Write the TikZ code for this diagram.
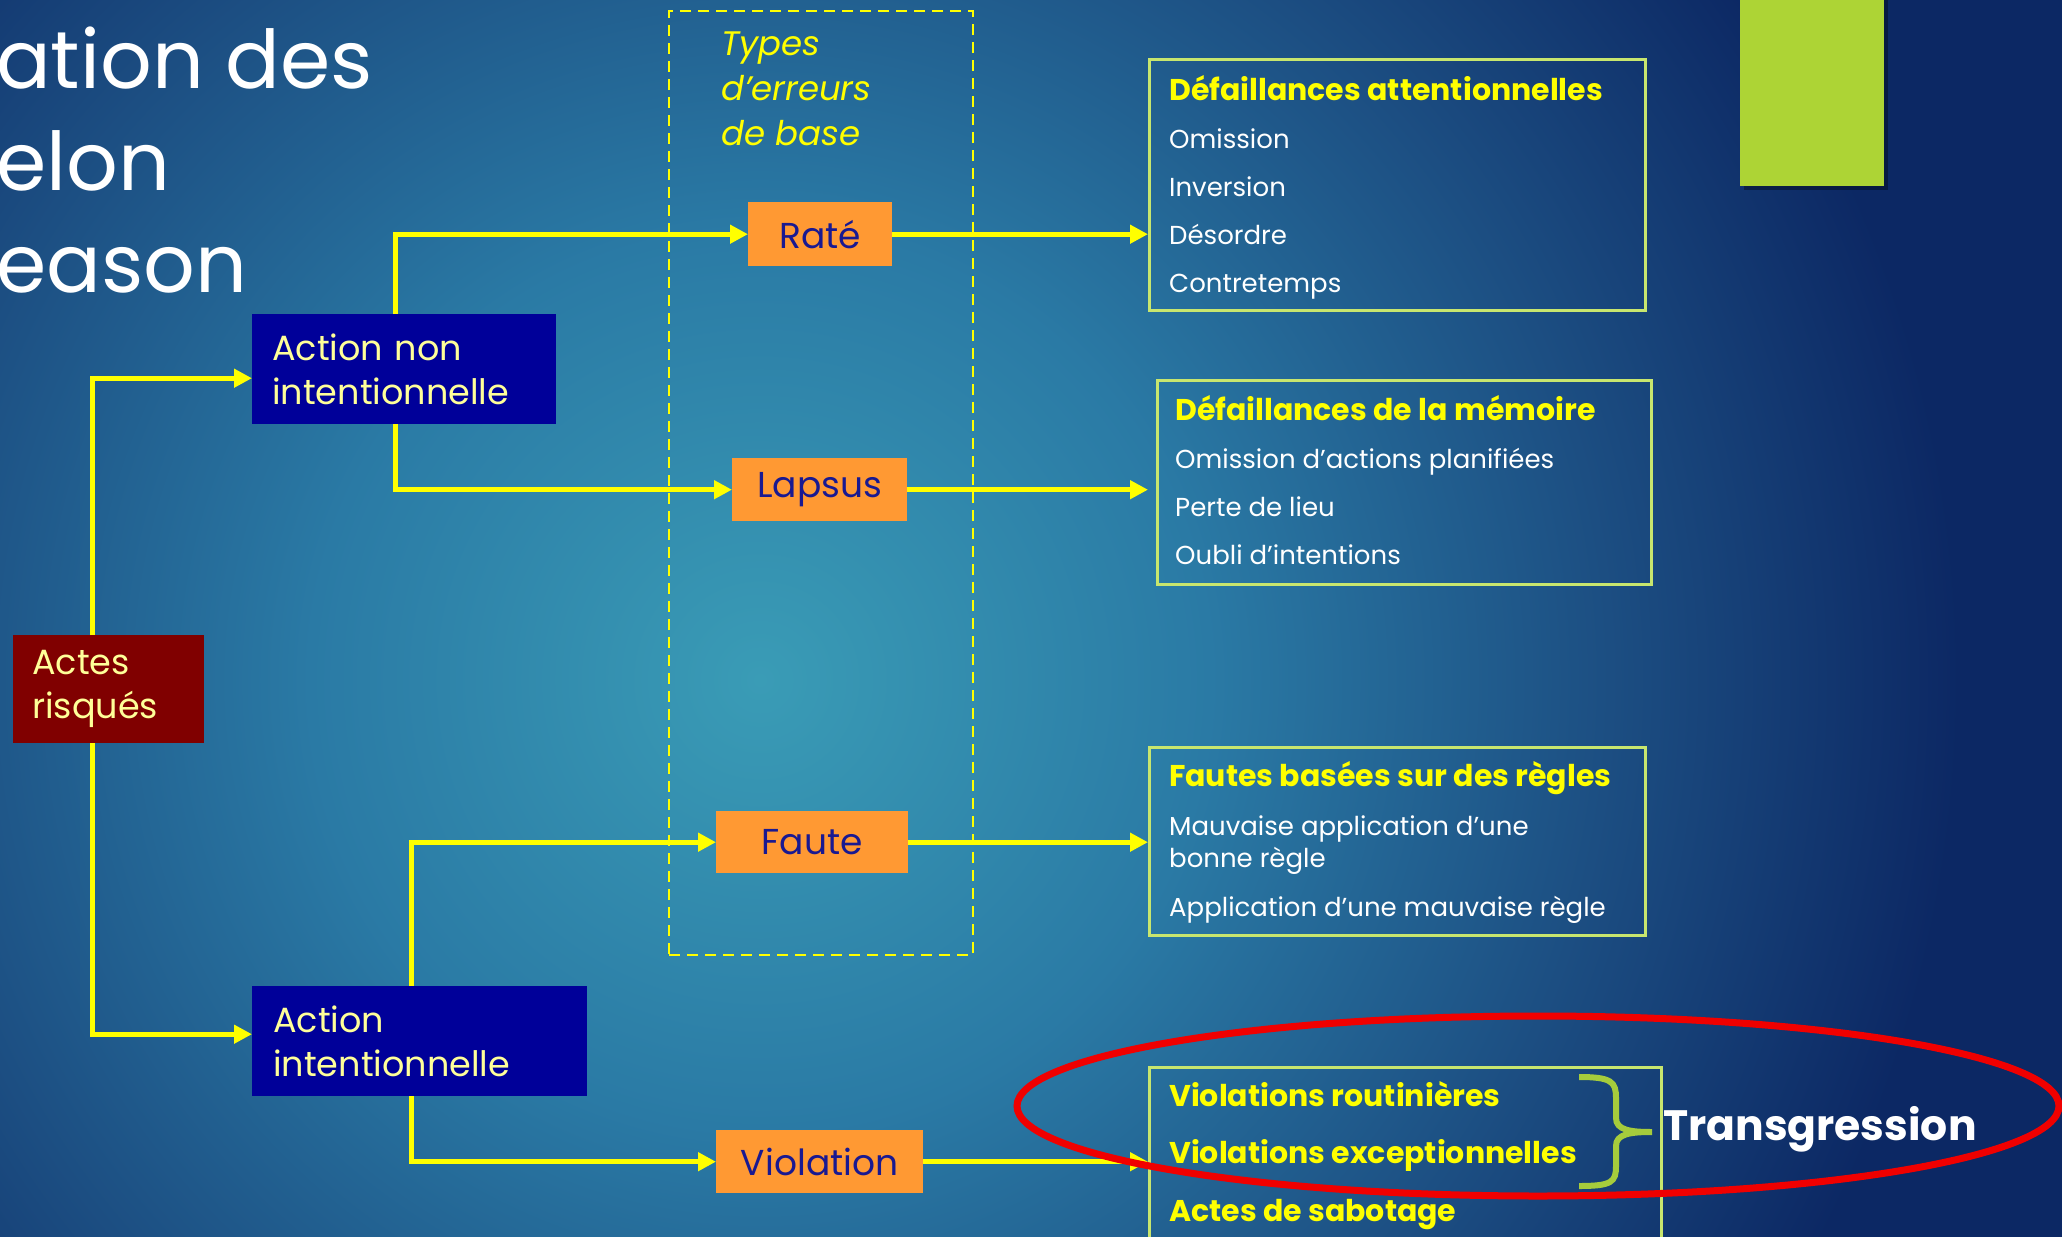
\documentclass[tikz,border=0pt]{standalone}
\usepackage{fontspec}
\setmainfont{Poppins}
\usetikzlibrary{arrows.meta}

\definecolor{glowin}{RGB}{58,156,182}
\definecolor{glowmid}{RGB}{42,122,165}
\definecolor{glowlow}{RGB}{28,78,130}
\definecolor{navydeep}{RGB}{12,40,100}
\definecolor{linkyellow}{RGB}{255,255,0}
\definecolor{paleyellow}{RGB}{255,255,153}
\definecolor{actblue}{RGB}{0,0,153}
\definecolor{riskred}{RGB}{128,0,0}
\definecolor{kindorange}{RGB}{255,153,51}
\definecolor{kindink}{RGB}{25,25,145}
\definecolor{listframe}{RGB}{200,230,110}
\definecolor{bracegreen}{RGB}{166,204,60}
\definecolor{tabgreen}{RGB}{173,212,53}
\definecolor{ringred}{RGB}{240,0,0}

\pgfdeclareradialshading{slideglow}{\pgfpoint{0bp}{0bp}}{color(0bp)=(glowin); color(9bp)=(glowmid); color(17bp)=(glowlow); color(24bp)=(navydeep); color(50bp)=(navydeep)}

\newcommand{\listhead}[1]{{\bfseries\fontsize{30}{48}\selectfont\color{linkyellow}#1}}

\tikzset{
    elbow/.style={to path={|- (\tikztotarget)}}
}

\begin{document}
\begin{tikzpicture}[x=1pt,y=-1pt]
        \useasboundingbox (0,0) rectangle (2062,1237);
        \clip (0,0) rectangle (2062,1237);
        % slide background
        \fill[navydeep] (0,0) rectangle (2062,1237);
        \shade[shading=slideglow] (760,680) circle (1250);
        \fill[black,opacity=.35] (1744,0) rectangle (1888,190);
        \fill[tabgreen] (1740,0) rectangle (1884,186);

        \node[anchor=base west, align=left, inner sep=0pt, text=white, font=\fontsize{81}{102}\selectfont] (title) at (-4,292) {ation des\\elon\\eason};

        \node[draw=linkyellow, line width=2pt, dash pattern=on 11pt off 7pt, anchor=north west, minimum width=304pt, minimum height=944pt, inner sep=0pt] (zone) at (668,10) {};
        \node[anchor=base west, align=left, inner sep=0pt, text=linkyellow, font=\itshape\fontsize{34}{45}\selectfont] (types) at (721,145) {Types\\d’erreurs\\de base};

        \begin{scope}[every node/.style={anchor=north west, inner ysep=0pt, align=left, text=paleyellow, font=\fontsize{35}{44}\selectfont}]
            \node[fill=riskred, minimum width=191pt, minimum height=108pt, text width=153pt, inner xsep=19pt] (actes) at (13,635) {Actes\\risqués};
            \node[fill=actblue, minimum width=304pt, minimum height=110pt, text width=264pt, inner xsep=20pt] (nonint) at (252,314) {Action non\\intentionnelle};
            \node[fill=actblue, minimum width=335pt, minimum height=110pt, text width=293pt, inner xsep=21pt] (intent) at (252,986) {Action\\intentionnelle};
        \end{scope}
        \begin{scope}[every node/.style={anchor=north west, fill=kindorange, text=kindink, font=\fontsize{36}{44}\selectfont, inner sep=0pt}]
            \node[minimum width=144pt, minimum height=64pt] (rate) at (748,202) {Raté};
            \node[minimum width=175pt, minimum height=63pt] (lapsus) at (732,458) {Lapsus};
            \node[minimum width=192pt, minimum height=62pt] (faute) at (716,811) {Faute};
            \node[minimum width=207pt, minimum height=63pt] (violation) at (716,1130) {Violation};
        \end{scope}
        \begin{scope}[every node/.style={anchor=north west, draw=listframe, line width=2.5pt, inner sep=0pt}]
            \node[minimum width=496pt, minimum height=251pt] (attn) at (1148,58) {};
            \node[minimum width=494pt, minimum height=204pt] (memo) at (1156,379) {};
            \node[minimum width=496pt, minimum height=188pt] (rules) at (1148,746) {};
            \node[minimum width=512pt, minimum height=220pt] (viol) at (1148,1066) {};
        \end{scope}

        \begin{scope}[every edge/.style={draw=linkyellow, line width=5pt, -{Triangle[length=18pt,width=18pt]}}]
            \path
                ([xshift=-16.5pt]actes.north) edge[elbow] ([yshift=-9pt]nonint.west)
                ([xshift=-16.5pt]actes.south) edge[elbow] ([yshift=7pt]intent.west)
                ([xshift=-9pt]nonint.north) edge[elbow] (rate.west)
                ([xshift=-9pt]nonint.south) edge[elbow] (lapsus.west)
                ([xshift=-8.5pt]intent.north) edge[elbow] (faute.west)
                ([xshift=-8.5pt]intent.south) edge[elbow] (violation.west);
            \path
                (rate.east) edge (rate.east -| attn.west)
                (lapsus.east) edge (lapsus.east -| attn.west)
                (faute.east) edge (faute.east -| rules.west)
                (violation.east) edge (violation.east -| viol.west);
        \end{scope}

        \begin{scope}[every node/.style={anchor=base west, align=left, inner sep=0pt, text=white, font=\fontsize{26}{48}\selectfont}]
            \node (attnlist) at (1169,292) {\listhead{Défaillances attentionnelles}\\Omission\\Inversion\\Désordre\\Contretemps};
            \node (memolist) at (1175,564) {\listhead{Défaillances de la mémoire}\\Omission d’actions planifiées\\Perte de lieu\\Oubli d’intentions};
            \node[font=\fontsize{26}{32}\selectfont] (ruleslist) at (1169,916) {\listhead{Fautes basées sur des règles}\\[17pt]Mauvaise application d’une\\bonne règle\\[17pt]Application d’une mauvaise règle};
            \node[font=\bfseries\fontsize{30}{57.5}\selectfont, text=linkyellow] (viollist) at (1169,1221) {Violations routinières\\Violations exceptionnelles\\Actes de sabotage};
        \end{scope}

        % brace and ring
        \draw[bracegreen, line width=6pt]
            (1579,1077) .. controls (1612,1077) and (1616,1082) .. (1616,1098) -- (1616,1118)
            .. controls (1616,1130) and (1630,1132) .. (1652,1132)
            .. controls (1630,1132) and (1616,1134) .. (1616,1146) -- (1616,1166)
            .. controls (1616,1182) and (1612,1186) .. (1579,1186);
        \node[anchor=base west, inner sep=0pt, text=white, font=\bfseries\fontsize{42.5}{52}\selectfont] (transg) at (1663,1140) {Transgression};
        \draw[ringred, line width=7pt] (1538,1106) ellipse [x radius=521pt, y radius=90pt];
    \end{tikzpicture}
\end{document}
